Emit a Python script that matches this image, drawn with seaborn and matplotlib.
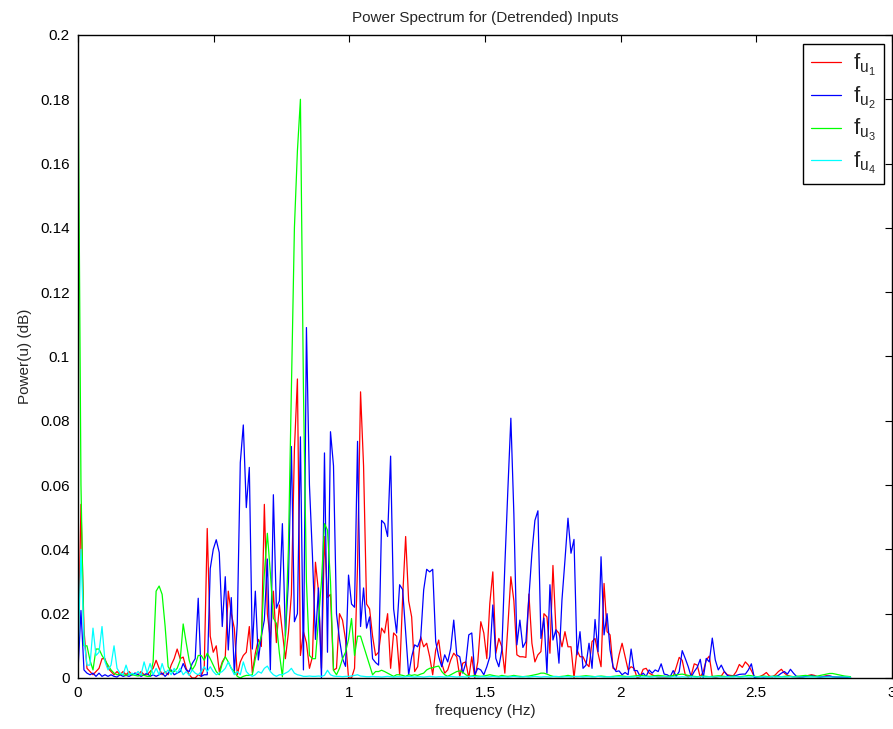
import numpy as np
import pandas as pd
import matplotlib
matplotlib.use("Agg")
import matplotlib.pyplot as plt
from matplotlib.lines import Line2D
import seaborn as sns

# ---------------- data ----------------
freq_step = 0.01108  # Hz between spectral bins

red_u1 = [
    0.004, 0.054, 0.015, 0.003, 0.002, 0.001, 0.002, 0.003, 0.006, 0.006,
    0.003, 0.002, 0.001, 0.002, 0.001, 0.002, 0.001, 0.002, 0.001, 0.0015,
    0.001, 0.002, 0.001, 0.001, 0.002, 0.003, 0.0055, 0.003, 0.001, 0.002,
    0.001, 0.004, 0.006, 0.009, 0.006, 0.0065, 0.003, 0.001, 0.0, 0.0,
    0.001, 0.0005, 0.003, 0.0465, 0.013, 0.008, 0.010, 0.002, 0.005, 0.0066,
    0.027, 0.020, 0.0155, 0.001, 0.005, 0.007, 0.008, 0.016, 0.0015, 0.0077,
    0.012, 0.0098, 0.054, 0.020, 0.012, 0.027, 0.011, 0.0227, 0.0144, 0.006,
    0.014, 0.026, 0.071, 0.093, 0.007, 0.0144, 0.011, 0.003, 0.0066, 0.036,
    0.027, 0.003, 0.044, 0.025, 0.026, 0.0024, 0.003, 0.020, 0.018, 0.012,
    0.0, 0.0, 0.003, 0.035, 0.089, 0.066, 0.023, 0.0215, 0.013, 0.007,
    0.008, 0.0155, 0.014, 0.02, 0.003, 0.014, 0.013, 0.001, 0.025, 0.044,
    0.024, 0.019, 0.002, 0.0035, 0.0128, 0.0097, 0.0108, 0.0066, 0.001, 0.0087,
    0.0118, 0.0046, 0.0015, 0.0025, 0.0056, 0.0077, 0.0066, 0.0004, 0.0046, 0.005,
    0.0, 0.0066, 0.0, 0.005, 0.0175, 0.014, 0.006, 0.0232, 0.033, 0.0077,
    0.0123, 0.0097, 0.0015, 0.016, 0.0315, 0.024, 0.0072, 0.0066, 0.0066, 0.0064,
    0.0261, 0.0108, 0.005, 0.0072, 0.0082, 0.020, 0.019, 0.0077, 0.035, 0.015,
    0.0139, 0.0097, 0.0144, 0.0097, 0.0097, 0.0, 0.0087, 0.0066, 0.0066, 0.0046,
    0.0035, 0.0113, 0.0123, 0.0077, 0.0035, 0.0294, 0.0144, 0.0134, 0.003, 0.0025,
    0.0072, 0.0108, 0.0066, 0.0025, 0.0035, 0.003, 0.0, 0.0004, 0.0027, 0.003,
    0.0015, 0.001, 0.0005, 0.0003, 0.0003, 0.0003, 0.0003, 0.0004, 0.0005, 0.0033,
    0.0064, 0.0055, 0.001, 0.0003, 0.0008, 0.0044, 0.004, 0.0002, 0.002, 0.0056,
    0.0068, 0.0004, 0.0002, 0.0004, 0.0006, 0.002, 0.001, 0.0008, 0.0007, 0.002,
    0.0042, 0.0033, 0.005, 0.004, 0.0023, 0.0004, 0.0003, 0.0005, 0.001, 0.0017,
    0.0006, 0.0003, 0.001, 0.002, 0.0027, 0.0015, 0.0008, 0.0005, 0.0004, 0.0003,
    0.0002, 0.0003, 0.0005, 0.0008, 0.001, 0.0008, 0.0004, 0.0003, 0.0005, 0.0007,
    0.0006, 0.0004, 0.0003, 0.0002, 0.0003, 0.0002, 0.0002, 0.0001,
]

blue_u2 = [
    0.002, 0.021, 0.0025, 0.0015, 0.001, 0.0015, 0.0005, 0.0015, 0.0005, 0.001,
    0.0005, 0.001, 0.0005, 0.0003, 0.001, 0.0005, 0.0008, 0.0005, 0.001, 0.0015,
    0.001, 0.0005, 0.001, 0.0015, 0.0005, 0.001, 0.0005, 0.001, 0.0015, 0.0005,
    0.0015, 0.0025, 0.001, 0.0015, 0.002, 0.0045, 0.0025, 0.002, 0.0045, 0.006,
    0.0248, 0.0005, 0.001, 0.001, 0.034, 0.040, 0.043, 0.039, 0.016, 0.0315,
    0.0087, 0.025, 0.0015, 0.017, 0.067, 0.0787, 0.053, 0.0655, 0.009, 0.027,
    0.0056, 0.013, 0.018, 0.037, 0.0025, 0.057, 0.0217, 0.024, 0.048, 0.013,
    0.03, 0.072, 0.0175, 0.02, 0.075, 0.0025, 0.109, 0.06, 0.038, 0.012,
    0.028, 0.0, 0.070, 0.008, 0.0766, 0.066, 0.02, 0.012, 0.006, 0.0036,
    0.032, 0.023, 0.022, 0.0736, 0.016, 0.028, 0.0155, 0.019, 0.006, 0.0048,
    0.004, 0.049, 0.048, 0.044, 0.069, 0.0215, 0.014, 0.029, 0.0275, 0.014,
    0.001, 0.0066, 0.0103, 0.0097, 0.0123, 0.0274, 0.0338, 0.033, 0.0338, 0.0113,
    0.0066, 0.0035, 0.0072, 0.005, 0.0092, 0.018, 0.0072, 0.0066, 0.0015, 0.0046,
    0.0134, 0.014, 0.001, 0.003, 0.0025, 0.001, 0.0035, 0.0066, 0.0227, 0.0061,
    0.0035, 0.0087, 0.035, 0.0585, 0.0808, 0.051, 0.0103, 0.018, 0.0095, 0.0113,
    0.0253, 0.0388, 0.049, 0.052, 0.0123, 0.0186, 0.0015, 0.029, 0.0118, 0.015,
    0.0046, 0.0243, 0.0367, 0.0497, 0.0388, 0.0431, 0.0072, 0.0144, 0.003, 0.004,
    0.0108, 0.003, 0.0182, 0.0082, 0.0377, 0.0134, 0.020, 0.0087, 0.0035, 0.002,
    0.0022, 0.001, 0.0017, 0.001, 0.009, 0.0023, 0.0023, 0.0005, 0.0015, 0.0005,
    0.0025, 0.0015, 0.0025, 0.002, 0.0044, 0.0012, 0.001, 0.0004, 0.0023, 0.0005,
    0.002, 0.0085, 0.0061, 0.0035, 0.0003, 0.002, 0.0033, 0.0058, 0.0, 0.0061,
    0.005, 0.0124, 0.0056, 0.0025, 0.004, 0.002, 0.0008, 0.0005, 0.0006, 0.0008,
    0.0011, 0.0012, 0.0012, 0.0025, 0.0044, 0.0, 0.0004, 0.0004, 0.0003, 0.0004,
    0.0004, 0.0005, 0.0004, 0.0008, 0.0015, 0.002, 0.0012, 0.0027, 0.0015, 0.0005,
    0.0004, 0.0003, 0.0005, 0.0006, 0.0008, 0.0005, 0.0004, 0.0003, 0.0004, 0.0005,
    0.0006, 0.0004, 0.0003, 0.0003, 0.0002, 0.0003, 0.0002, 0.0001,
]

green_u3 = [
    0.198, 0.06, 0.010, 0.010, 0.0055, 0.0025, 0.009, 0.009, 0.007, 0.0055,
    0.004, 0.0025, 0.0015, 0.001, 0.0012, 0.001, 0.0008, 0.0012, 0.001, 0.0008,
    0.0006, 0.001, 0.0008, 0.0005, 0.0005, 0.005, 0.027, 0.0286, 0.026, 0.016,
    0.0035, 0.002, 0.002, 0.003, 0.0055, 0.0168, 0.011, 0.0055, 0.0025, 0.004,
    0.007, 0.007, 0.0055, 0.0077, 0.006, 0.004, 0.002, 0.001, 0.0045, 0.0066,
    0.005, 0.003, 0.002, 0.0005, 0.0, 0.0005, 0.0008, 0.0008, 0.001, 0.006,
    0.0098, 0.013, 0.0326, 0.045, 0.0326, 0.0186, 0.017, 0.0077, 0.0004, 0.013,
    0.04, 0.09, 0.14, 0.164, 0.180, 0.09, 0.03, 0.007, 0.006, 0.006,
    0.018, 0.03, 0.048, 0.046, 0.030, 0.0024, 0.001, 0.003, 0.006, 0.008,
    0.012, 0.0185, 0.007, 0.013, 0.013, 0.010, 0.007, 0.004, 0.001, 0.002,
    0.002, 0.0024, 0.002, 0.0015, 0.001, 0.0005, 0.001, 0.001, 0.0008, 0.0005,
    0.001, 0.0008, 0.001, 0.0008, 0.0012, 0.0015, 0.0025, 0.003, 0.0032, 0.0035,
    0.0037, 0.002, 0.001, 0.0005, 0.001, 0.0015, 0.002, 0.0022, 0.0018, 0.001,
    0.0005, 0.0006, 0.0008, 0.0006, 0.0005, 0.0006, 0.0008, 0.001, 0.0008, 0.0006,
    0.0005, 0.0008, 0.0006, 0.0005, 0.0006, 0.0008, 0.0006, 0.0005, 0.0004, 0.0005,
    0.0006, 0.0008, 0.001, 0.0012, 0.0015, 0.0015, 0.0012, 0.0008, 0.0005, 0.0004,
    0.0004, 0.0005, 0.0006, 0.0008, 0.0006, 0.0005, 0.0004, 0.0005, 0.0006, 0.0007,
    0.0006, 0.0005, 0.0004, 0.0005, 0.0006, 0.0005, 0.0004, 0.0004, 0.0005, 0.0006,
    0.0007, 0.0006, 0.0005, 0.0004, 0.0005, 0.0006, 0.0007, 0.0008, 0.0007, 0.0006,
    0.0005, 0.0006, 0.0007, 0.0008, 0.0007, 0.0006, 0.0005, 0.0006, 0.0008, 0.001,
    0.0011, 0.0012, 0.001, 0.0008, 0.0006, 0.0005, 0.0004, 0.0005, 0.0006, 0.0005,
    0.0004, 0.0005, 0.0006, 0.0007, 0.0006, 0.0005, 0.0004, 0.0005, 0.0006, 0.0005,
    0.0004, 0.0005, 0.0006, 0.0008, 0.0007, 0.0005, 0.0004, 0.0005, 0.0006, 0.0005,
    0.0004, 0.0005, 0.0006, 0.0005, 0.0004, 0.0005, 0.0006, 0.0005, 0.0004, 0.0005,
    0.0006, 0.0007, 0.0008, 0.0007, 0.0006, 0.0005, 0.0006, 0.0008, 0.001, 0.0012,
    0.0014, 0.0014, 0.0012, 0.001, 0.0008, 0.0006, 0.0005, 0.0004,
]

cyan_u4 = [
    0.005, 0.04, 0.012, 0.004, 0.004, 0.0155, 0.007, 0.008, 0.016, 0.005,
    0.0025, 0.004, 0.010, 0.003, 0.0015, 0.001, 0.004, 0.001, 0.0015, 0.001,
    0.002, 0.001, 0.005, 0.0015, 0.0045, 0.001, 0.003, 0.001, 0.0045, 0.0015,
    0.0025, 0.001, 0.003, 0.0015, 0.003, 0.001, 0.002, 0.0008, 0.0025, 0.0015,
    0.001, 0.002, 0.0035, 0.002, 0.0035, 0.002, 0.001, 0.0015, 0.002, 0.003,
    0.005, 0.003, 0.001, 0.002, 0.001, 0.005, 0.002, 0.001, 0.0005, 0.001,
    0.002, 0.0015, 0.003, 0.0037, 0.002, 0.001, 0.0005, 0.001, 0.001, 0.0015,
    0.002, 0.003, 0.0015, 0.001, 0.0008, 0.0005, 0.0005, 0.0006, 0.0005, 0.0005,
    0.0006, 0.0005, 0.0008, 0.0024, 0.001, 0.0006, 0.0005, 0.0005, 0.0004, 0.0005,
    0.0005, 0.0006, 0.0008, 0.001, 0.0006, 0.0005, 0.0004, 0.0004, 0.0005, 0.0004,
    0.0004, 0.0003, 0.0004, 0.0005, 0.0004, 0.0003, 0.0004, 0.0004, 0.0003, 0.0004,
    0.0005, 0.0004, 0.0003, 0.0004, 0.0004, 0.0003, 0.0004, 0.0005, 0.0004, 0.0003,
    0.0004, 0.0004, 0.0003, 0.0004, 0.0005, 0.0004, 0.0003, 0.0004, 0.0004, 0.0003,
    0.0004, 0.0005, 0.0004, 0.0003, 0.0004, 0.0004, 0.0003, 0.0004, 0.0005, 0.0004,
    0.0003, 0.0004, 0.0004, 0.0003, 0.0004, 0.0005, 0.0004, 0.0003, 0.0004, 0.0004,
    0.0003, 0.0004, 0.0005, 0.0004, 0.0003, 0.0004, 0.0004, 0.0003, 0.0004, 0.0005,
    0.0004, 0.0003, 0.0004, 0.0004, 0.0003, 0.0004, 0.0005, 0.0004, 0.0003, 0.0004,
    0.0004, 0.0003, 0.0004, 0.0005, 0.0004, 0.0003, 0.0004, 0.0004, 0.0003, 0.0004,
    0.0004, 0.0003, 0.0003, 0.0004, 0.0003, 0.0003, 0.0004, 0.0003, 0.0003, 0.0004,
    0.0003, 0.0003, 0.0004, 0.0003, 0.0003, 0.0004, 0.0003, 0.0003, 0.0004, 0.0003,
    0.0003, 0.0004, 0.0003, 0.0003, 0.0004, 0.0003, 0.0003, 0.0004, 0.0003, 0.0003,
    0.0004, 0.0003, 0.0003, 0.0004, 0.0003, 0.0003, 0.0004, 0.0003, 0.0003, 0.0004,
    0.0003, 0.0003, 0.0004, 0.0003, 0.0003, 0.0004, 0.0003, 0.0003, 0.0004, 0.0003,
    0.0003, 0.0004, 0.0003, 0.0003, 0.0004, 0.0003, 0.0003, 0.0004, 0.0003, 0.0003,
    0.0003, 0.0003, 0.0003, 0.0003, 0.0003, 0.0003, 0.0003, 0.0003, 0.0003, 0.0003,
    0.0003, 0.0003, 0.0003, 0.0003, 0.0003, 0.0003, 0.0003, 0.0002,
]

series_names = ["u1", "u2", "u3", "u4"]
series_values = [red_u1, blue_u2, green_u3, cyan_u4]
series_colors = ["#ff0000", "#0000ff", "#00ff00", "#00ffff"]
legend_labels = [r"$\mathregular{f_{u_1}}$", r"$\mathregular{f_{u_2}}$",
                 r"$\mathregular{f_{u_3}}$", r"$\mathregular{f_{u_4}}$"]

x_ticks = [0, 0.5, 1, 1.5, 2, 2.5, 3]
x_ticklabels = ["0", "0.5", "1", "1.5", "2", "2.5", "3"]
y_ticks = [0, 0.02, 0.04, 0.06, 0.08, 0.1, 0.12, 0.14, 0.16, 0.18, 0.2]
y_ticklabels = ["0", "0.02", "0.04", "0.06", "0.08", "0.1", "0.12", "0.14",
                "0.16", "0.18", "0.2"]

# ---------------- long-form table ----------------
frames = []
for name, vals in zip(series_names, series_values):
    vals = np.asarray(vals, dtype=float)
    frames.append(pd.DataFrame({
        "freq": np.arange(len(vals)) * freq_step,
        "power": vals,
        "series": name,
    }))
data = pd.concat(frames, ignore_index=True)

# ---------------- styling ----------------
sns.set_style("white")
plt.rcParams["font.family"] = ["Liberation Sans", "DejaVu Sans"]
plt.rcParams["mathtext.fontset"] = "custom"
plt.rcParams["mathtext.rm"] = "Liberation Sans"

fig = plt.figure(figsize=(8.93, 7.29), dpi=100)
ax = fig.add_axes([0.0873, 0.0700, 0.9115, 0.8820])

sns.lineplot(data=data, x="freq", y="power", hue="series",
             hue_order=series_names, palette=dict(zip(series_names, series_colors)),
             estimator=None, sort=False, linewidth=0.9, legend=False, ax=ax)

ax.set_xlim(0, 3)
ax.set_ylim(0, 0.2)
ax.set_xticks(x_ticks)
ax.set_xticklabels(x_ticklabels)
ax.set_yticks(y_ticks)
ax.set_yticklabels(y_ticklabels)
ax.tick_params(direction="in", length=5, width=0.8, top=True, right=True,
               labelsize=11, colors="black", pad=6)
for s in ax.spines.values():
    s.set_visible(True)
    s.set_color("black")
    s.set_linewidth(1.0)

ax.set_title("Power Spectrum for (Detrended) Inputs", fontsize=11, pad=9)
ax.set_xlabel("frequency (Hz)", fontsize=11, labelpad=3)
ax.set_ylabel("Power(u) (dB)", fontsize=11, labelpad=6)

handles = [Line2D([0], [0], color=c, lw=0.9) for c in series_colors]
leg = ax.legend(handles, legend_labels, loc="upper right",
                bbox_to_anchor=(0.990, 0.986), borderaxespad=0,
                fancybox=False, framealpha=1, edgecolor="black",
                fontsize=16, handlelength=1.35, labelspacing=0.3,
                borderpad=0.35, handletextpad=0.55)
leg.get_frame().set_linewidth(1.0)

fig.savefig("out.png", dpi=100, facecolor="white")
